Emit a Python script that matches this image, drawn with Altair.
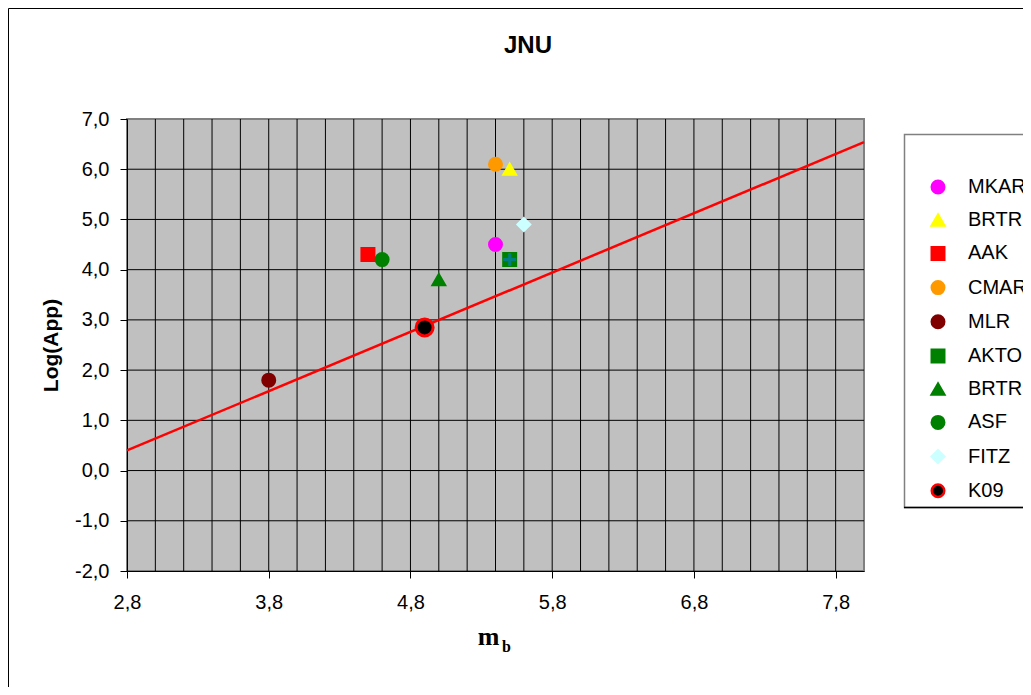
import altair as alt
import pandas as pd

# ---- data ----
series = ["MKAR", "BRTR_1", "AAK", "CMAR", "MLR", "AKTO", "BRTR_2", "ASF", "FITZ", "K09"]
mb = [5.4, 5.5, 4.5, 5.4, 3.8, 5.5, 5.0, 4.6, 5.6, 4.9]
log_app = [4.5, 6.0, 4.3, 6.1, 1.8, 4.2, 3.8, 4.2, 4.9, 2.85]

fill_colors = ["#FF00FF", "#FFFF00", "#FF0000", "#FF9900", "#800000",
               "#008000", "#008000", "#008000", "#CCFFFF", "#000000"]
stroke_colors = ["#FF00FF", "#FFFF00", "#FF0000", "#FF9900", "#800000",
                 "#008000", "#008000", "#008000", "#CCFFFF", "#FF0000"]
shapes = ["circle", "triangle-up", "square", "circle", "circle",
          "square", "triangle-up", "circle", "diamond", "circle"]

fit_mb = [2.8, 8.0]
fit_log_app = [0.40, 6.54]

x_major = [2.8, 3.8, 4.8, 5.8, 6.8, 7.8]
x_grid = [3.0, 3.2, 3.4, 3.6, 3.8, 4.0, 4.2, 4.4, 4.6, 4.8, 5.0, 5.2, 5.4,
          5.6, 5.8, 6.0, 6.2, 6.4, 6.6, 6.8, 7.0, 7.2, 7.4, 7.6, 7.8]
y_ticks = [-2, -1, 0, 1, 2, 3, 4, 5, 6, 7]
y_grid = [-1, 0, 1, 2, 3, 4, 5, 6]

points = pd.DataFrame({"series": series, "mb": mb, "log_app": log_app})
fit = pd.DataFrame({"mb": fit_mb, "log_app": fit_log_app})
xg = pd.DataFrame({"g": x_grid})
yg = pd.DataFrame({"g": y_grid})
one = pd.DataFrame({"a": [0]})

W, H = 737, 452
FONT = "Liberation Sans"
comma = "(datum.value < 0 ? '-' : '') + replace(format(abs(datum.value), '.1f'), '.', ',')"

xs = alt.Scale(domain=[2.8, 8.0], nice=False, zero=False)
ys = alt.Scale(domain=[-2, 7], nice=False, zero=False)

x_axis = alt.Axis(values=x_major, grid=False, labelExpr=comma, labelFont=FONT,
                  labelFontSize=20, labelColor="black", labelPadding=14,
                  labelFlush=False, labelOverlap=False, tickSize=7,
                  tickColor="black", domainColor="black", domainWidth=1,
                  title="m", titleFont="Liberation Serif", titleFontSize=26,
                  titleFontWeight="bold", titleColor="black", titleX=361,
                  titleY=73, titleAlign="center", titleBaseline="alphabetic",
                  orient="bottom")
y_axis = alt.Axis(values=y_ticks, grid=False, labelExpr=comma, labelFont=FONT,
                  labelFontSize=20, labelColor="black", labelPadding=11,
                  labelFlush=False, labelOverlap=False, tickSize=7,
                  tickColor="black", domainColor="black", domainWidth=1,
                  title="Log(App)", titleFont=FONT, titleFontSize=21,
                  titleFontWeight="bold", titleColor="black", titleX=-76,
                  titleY=H / 2, titleAngle=270, titleAlign="center",
                  titleBaseline="middle", orient="left")

legend = alt.Legend(title=None, orient="none", legendX=801, legendY=58,
                    padding=0, labelFont=FONT, labelFontSize=20,
                    labelColor="black", labelOffset=20, rowPadding=10.2,
                    symbolSize=156, symbolStrokeWidth=2.5, symbolOpacity=1,
                    labelExpr="replace(datum.label, '_1', '') == datum.label ? replace(datum.label, '_2', '') : replace(datum.label, '_1', '')")

vgrid = alt.Chart(xg).mark_rule(color="black", strokeWidth=1).encode(
    x=alt.X("g:Q", scale=xs, axis=x_axis))
hgrid = alt.Chart(yg).mark_rule(color="black", strokeWidth=1).encode(
    y=alt.Y("g:Q", scale=ys, axis=y_axis))

line = alt.Chart(fit).mark_line(color="#FF0000", strokeWidth=2.5).encode(
    x=alt.X("mb:Q", scale=xs, axis=x_axis),
    y=alt.Y("log_app:Q", scale=ys, axis=y_axis))

pts = alt.Chart(points).transform_filter("datum.series != 'K09'").mark_point(
    filled=True, opacity=1, size=169, strokeWidth=2).encode(
    x=alt.X("mb:Q", scale=xs, axis=x_axis),
    y=alt.Y("log_app:Q", scale=ys, axis=y_axis),
    fill=alt.Fill("series:N", scale=alt.Scale(domain=series, range=fill_colors), legend=legend),
    stroke=alt.Stroke("series:N", scale=alt.Scale(domain=series, range=stroke_colors), legend=legend),
    shape=alt.Shape("series:N", scale=alt.Scale(domain=series, range=shapes), legend=legend),
)

k09 = alt.Chart(points).transform_filter("datum.series == 'K09'").mark_point(
    filled=True, opacity=1, size=289, strokeWidth=3, shape="circle",
    fill="#000000", stroke="#FF0000").encode(
    x=alt.X("mb:Q", scale=xs, axis=x_axis),
    y=alt.Y("log_app:Q", scale=ys, axis=y_axis))

cross = alt.Chart(points).transform_filter("datum.series == 'AKTO'").mark_point(
    shape="M0,-1V1M-1,0H1", size=169, strokeWidth=3, color="#008080",
    filled=False, opacity=1).encode(
    x=alt.X("mb:Q", scale=xs, axis=x_axis),
    y=alt.Y("log_app:Q", scale=ys, axis=y_axis))

title = alt.Chart(one).mark_text(text="JNU", font=FONT, fontSize=24,
                                 fontWeight="bold", color="black",
                                 align="center", baseline="alphabetic").encode(
    x=alt.value(401), y=alt.value(-66))

sub_b = alt.Chart(one).mark_text(text="b", font="Liberation Serif", fontSize=16,
                                 fontWeight="bold", color="black",
                                 align="left", baseline="alphabetic").encode(
    x=alt.value(375), y=alt.value(533))

frame = alt.Chart(one).mark_rect(fillOpacity=0, stroke="black", strokeWidth=1).encode(
    x=alt.value(-118.5), y=alt.value(-110.5), x2=alt.value(1100), y2=alt.value(700))

legend_box = alt.Chart(one).mark_rect(fillOpacity=0, stroke="#808080", strokeWidth=1.5).encode(
    x=alt.value(777.5), y=alt.value(15.5), x2=alt.value(1100), y2=alt.value(388.5))
legend_bottom = alt.Chart(one).mark_rule(color="black", strokeWidth=1.5).encode(
    x=alt.value(777), x2=alt.value(1100), y=alt.value(388.5))

chart = alt.layer(
    frame, legend_box, legend_bottom, vgrid, hgrid, line, pts, k09, cross,
    title, sub_b
).properties(
    width=W, height=H,
    padding={"left": 119, "top": 111, "right": 159, "bottom": 116},
    autosize=alt.AutoSizeParams(type="none"),
    background="white",
).configure_view(
    fill="#C0C0C0", stroke="#808080", strokeWidth=2
)

chart.save("out.html", embed_options={"renderer": "svg", "actions": False})
